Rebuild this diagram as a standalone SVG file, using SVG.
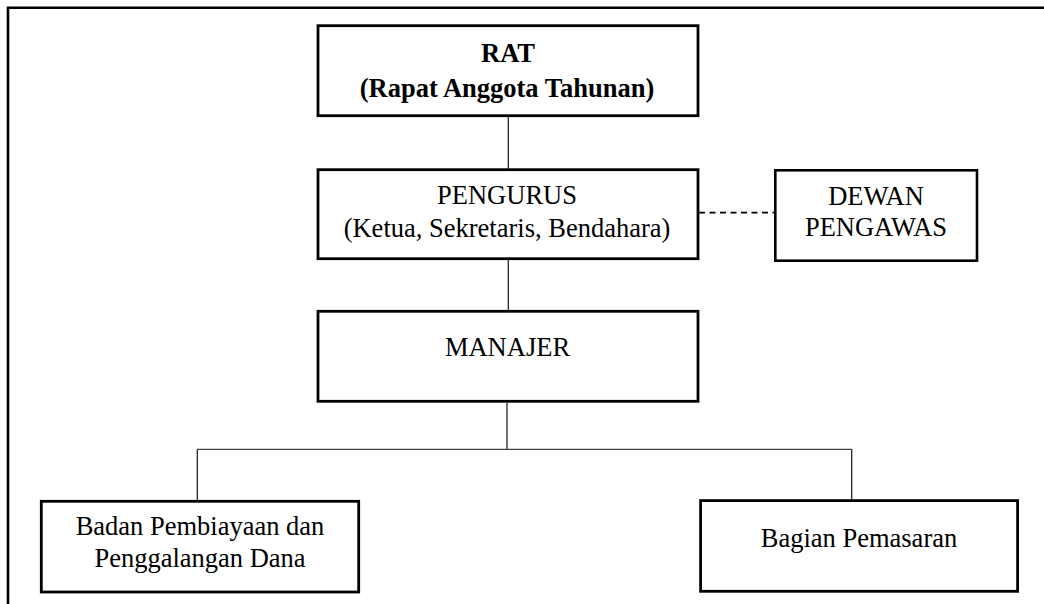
<svg xmlns="http://www.w3.org/2000/svg" width="1044" height="604" viewBox="0 0 1044 604">
  <style>
    .box { fill: #ffffff; stroke: #000000; stroke-width: 2.8; }
    .t { font-family: "Liberation Serif", "Times New Roman", serif; font-size: 26.5px; fill: #000000; text-anchor: middle; }
    .b { font-weight: bold; }
    .c { stroke: #111111; stroke-width: 1.2; fill: none; }
    .d { stroke: #000000; stroke-width: 1.8; stroke-dasharray: 6 4.5; fill: none; }
    .frame { stroke: #000000; stroke-width: 2.6; fill: none; }
  </style>
  <rect width="1044" height="604" fill="#ffffff"/>
  <g id="frame">
    <path class="frame" d="M8 604 V7.7 H1044"/>
  </g>
  <g id="connectors">
    <line class="c" x1="508.3" y1="117" x2="508.3" y2="168.5"/>
    <line class="c" x1="508.3" y1="260" x2="508.3" y2="310"/>
    <line class="c" x1="507" y1="403" x2="507" y2="449.3"/>
    <line class="c" x1="197.3" y1="449.3" x2="851.7" y2="449.3" style="stroke:#444"/>
    <line class="c" x1="197.3" y1="449.3" x2="197.3" y2="500"/>
    <line class="c" x1="851.7" y1="449.3" x2="851.7" y2="499.5"/>
    <line class="d" x1="699" y1="212.7" x2="774" y2="212.7"/>
  </g>
  <g id="rat">
    <rect class="box" x="318" y="25.7" width="380" height="90"/>
    <text class="t b" x="508" y="61.7">RAT</text>
    <text class="t b" x="507" y="96.7">(Rapat Anggota Tahunan)</text>
  </g>
  <g id="pengurus">
    <rect class="box" x="318" y="169.7" width="380" height="89"/>
    <text class="t" x="507" y="204">PENGURUS</text>
    <text class="t" x="507" y="237">(Ketua, Sekretaris, Bendahara)</text>
  </g>
  <g id="dewan">
    <rect class="box" x="775.3" y="170.3" width="201.7" height="90.4" style="stroke-width:2.6"/>
    <text class="t" x="876" y="205">DEWAN</text>
    <text class="t" x="876" y="236">PENGAWAS</text>
  </g>
  <g id="manajer">
    <rect class="box" x="318" y="311.3" width="380" height="90"/>
    <text class="t" x="507.5" y="355.7">MANAJER</text>
  </g>
  <g id="badan">
    <rect class="box" x="41.3" y="501.3" width="317.4" height="90.7"/>
    <text class="t" x="200" y="535">Badan Pembiayaan dan</text>
    <text class="t" x="200" y="566.7">Penggalangan Dana</text>
  </g>
  <g id="bagian">
    <rect class="box" x="700.6" y="500.6" width="317" height="90.7"/>
    <text class="t" x="859" y="546.7">Bagian Pemasaran</text>
  </g>
</svg>
